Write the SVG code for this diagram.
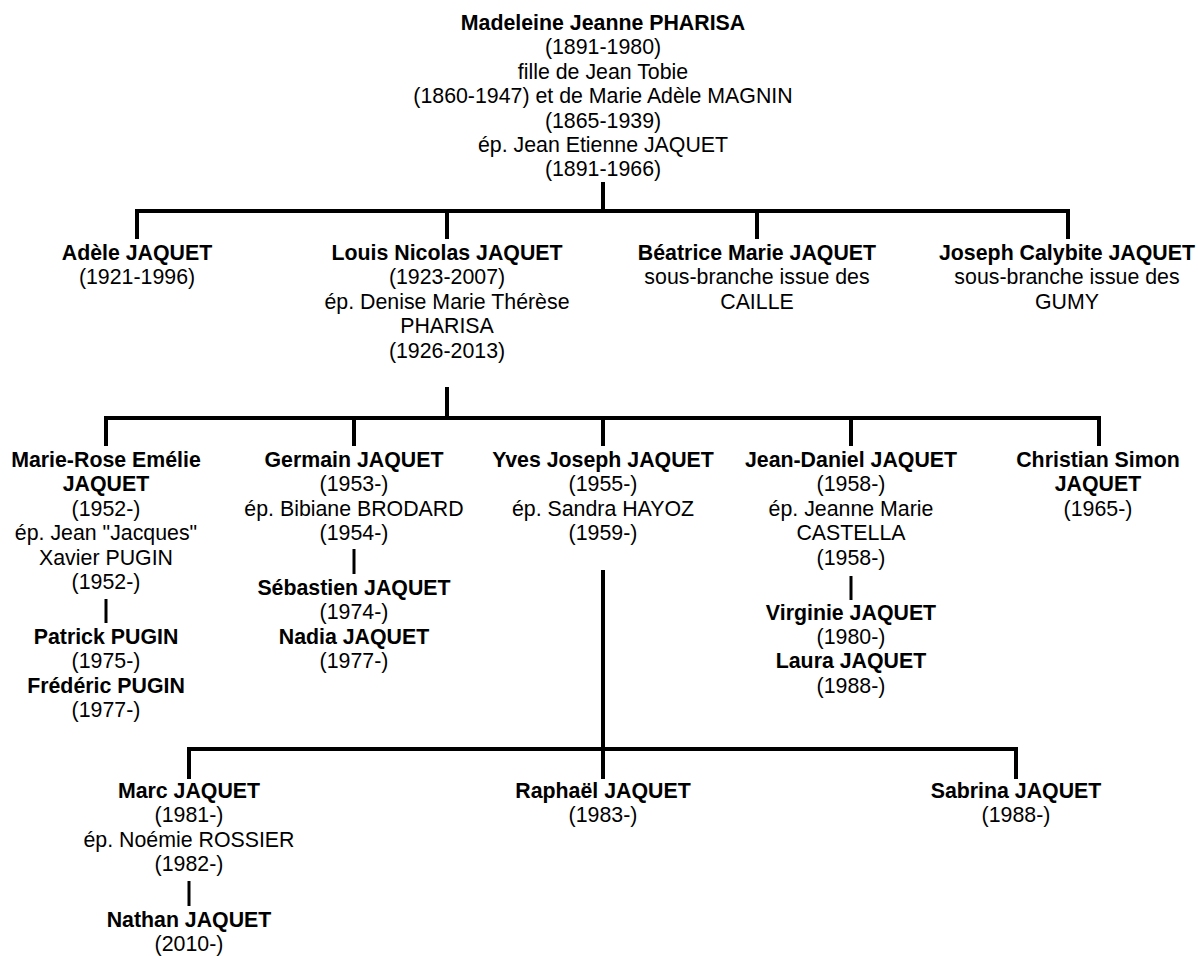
<svg xmlns="http://www.w3.org/2000/svg" width="1198" height="956" viewBox="0 0 1198 956">
<style>
text{font-family:"Liberation Sans",Arial,sans-serif;font-size:21.33px;fill:#000;text-anchor:middle}
.b{font-weight:bold}
.c line{stroke:#000;stroke-width:4}
.c line.t{stroke-width:3}
</style>
<rect width="1198" height="956" fill="#fff"/>
<g id="connectors" class="c">
<line x1="603" y1="182" x2="603" y2="211"/>
<line x1="135" y1="211" x2="1070" y2="211"/>
<line x1="137" y1="209" x2="137" y2="239"/>
<line x1="447" y1="209" x2="447" y2="239"/>
<line x1="757" y1="209" x2="757" y2="239"/>
<line x1="1068" y1="209" x2="1068" y2="239"/>
<line x1="447" y1="387" x2="447" y2="418"/>
<line x1="104" y1="418" x2="1101" y2="418"/>
<line x1="106" y1="416" x2="106" y2="446"/>
<line x1="354" y1="416" x2="354" y2="446"/>
<line x1="603" y1="416" x2="603" y2="446"/>
<line x1="851" y1="416" x2="851" y2="446"/>
<line x1="1099" y1="416" x2="1099" y2="446"/>
<line x1="603" y1="570" x2="603" y2="749"/>
<line x1="187" y1="749" x2="1018" y2="749"/>
<line x1="189" y1="747" x2="189" y2="779"/>
<line x1="603" y1="747" x2="603" y2="779"/>
<line x1="1016" y1="747" x2="1016" y2="779"/>
<line class="t" x1="106" y1="599" x2="106" y2="623"/>
<line class="t" x1="354" y1="549" x2="354" y2="574"/>
<line class="t" x1="851" y1="576" x2="851" y2="600"/>
<line class="t" x1="189" y1="881" x2="189" y2="906"/>
</g>
<g id="madeleine">
<text class="b" x="603" y="30">Madeleine Jeanne PHARISA</text>
<text x="603" y="54.4">(1891-1980)</text>
<text x="603" y="78.8">fille de Jean Tobie</text>
<text x="603" y="103.2">(1860-1947) et de Marie Adèle MAGNIN</text>
<text x="603" y="127.6">(1865-1939)</text>
<text x="603" y="152">ép. Jean Etienne JAQUET</text>
<text x="603" y="176.4">(1891-1966)</text>
</g>
<g id="adele">
<text class="b" x="137" y="260">Adèle JAQUET</text>
<text x="137" y="284.4">(1921-1996)</text>
</g>
<g id="louis">
<text class="b" x="447" y="260">Louis Nicolas JAQUET</text>
<text x="447" y="284.4">(1923-2007)</text>
<text x="447" y="308.8">ép. Denise Marie Thérèse</text>
<text x="447" y="333.2">PHARISA</text>
<text x="447" y="357.6">(1926-2013)</text>
</g>
<g id="beatrice">
<text class="b" x="757" y="260">Béatrice Marie JAQUET</text>
<text x="757" y="284.4">sous-branche issue des</text>
<text x="757" y="308.8">CAILLE</text>
</g>
<g id="joseph">
<text class="b" x="1067" y="260">Joseph Calybite JAQUET</text>
<text x="1067" y="284.4">sous-branche issue des</text>
<text x="1067" y="308.8">GUMY</text>
</g>
<g id="marie-rose">
<text class="b" x="106" y="467">Marie-Rose Emélie</text>
<text class="b" x="106" y="491.4">JAQUET</text>
<text x="106" y="515.8">(1952-)</text>
<text x="106" y="540.2">ép. Jean "Jacques"</text>
<text x="106" y="564.6">Xavier PUGIN</text>
<text x="106" y="589">(1952-)</text>
</g>
<g id="pugin-children">
<text class="b" x="106" y="644">Patrick PUGIN</text>
<text x="106" y="668.4">(1975-)</text>
<text class="b" x="106" y="692.8">Frédéric PUGIN</text>
<text x="106" y="717.2">(1977-)</text>
</g>
<g id="germain">
<text class="b" x="354" y="467">Germain JAQUET</text>
<text x="354" y="491.4">(1953-)</text>
<text x="354" y="515.8">ép. Bibiane BRODARD</text>
<text x="354" y="540.2">(1954-)</text>
</g>
<g id="germain-children">
<text class="b" x="354" y="595">Sébastien JAQUET</text>
<text x="354" y="619.4">(1974-)</text>
<text class="b" x="354" y="643.8">Nadia JAQUET</text>
<text x="354" y="668.2">(1977-)</text>
</g>
<g id="yves">
<text class="b" x="603" y="467">Yves Joseph JAQUET</text>
<text x="603" y="491.4">(1955-)</text>
<text x="603" y="515.8">ép. Sandra HAYOZ</text>
<text x="603" y="540.2">(1959-)</text>
</g>
<g id="jean-daniel">
<text class="b" x="851" y="467">Jean-Daniel JAQUET</text>
<text x="851" y="491.4">(1958-)</text>
<text x="851" y="515.8">ép. Jeanne Marie</text>
<text x="851" y="540.2">CASTELLA</text>
<text x="851" y="564.6">(1958-)</text>
</g>
<g id="jean-daniel-children">
<text class="b" x="851" y="619.5">Virginie JAQUET</text>
<text x="851" y="643.9">(1980-)</text>
<text class="b" x="851" y="668.3">Laura JAQUET</text>
<text x="851" y="692.7">(1988-)</text>
</g>
<g id="christian">
<text class="b" x="1098" y="467">Christian Simon</text>
<text class="b" x="1098" y="491.4">JAQUET</text>
<text x="1098" y="515.8">(1965-)</text>
</g>
<g id="marc">
<text class="b" x="189" y="798">Marc JAQUET</text>
<text x="189" y="822.4">(1981-)</text>
<text x="189" y="846.8">ép. Noémie ROSSIER</text>
<text x="189" y="871.2">(1982-)</text>
</g>
<g id="nathan">
<text class="b" x="189" y="926.5">Nathan JAQUET</text>
<text x="189" y="950.9">(2010-)</text>
</g>
<g id="raphael">
<text class="b" x="603" y="798">Raphaël JAQUET</text>
<text x="603" y="822.4">(1983-)</text>
</g>
<g id="sabrina">
<text class="b" x="1016" y="798">Sabrina JAQUET</text>
<text x="1016" y="822.4">(1988-)</text>
</g>
</svg>
